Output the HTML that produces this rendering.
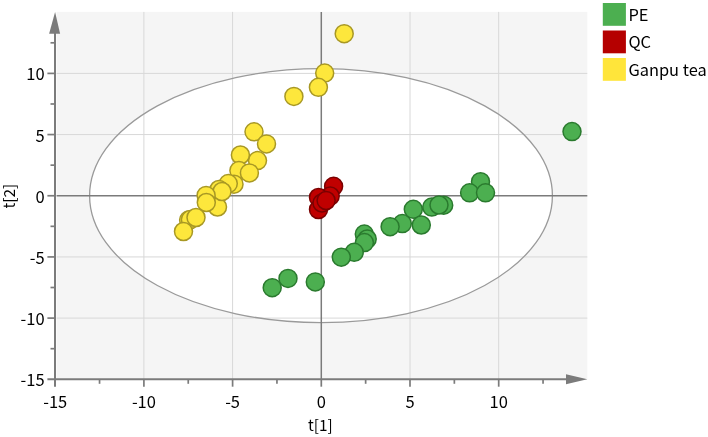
<!DOCTYPE html>
<html><head><meta charset="utf-8"><title>Score plot</title>
<style>html,body{margin:0;padding:0;background:#fff;}svg{display:block;}</style>
</head><body>
<svg width="708" height="437" viewBox="0 0 708 437">
<rect x="56.6" y="11.9" width="530.7" height="367.4" fill="#f5f5f5"/>
<ellipse cx="321.0" cy="195.7" rx="231.4" ry="127" fill="#ffffff"/>
<line x1="143.90" y1="11.9" x2="143.90" y2="379.3" stroke="#d8d8d8" stroke-width="1"/>
<line x1="232.60" y1="11.9" x2="232.60" y2="379.3" stroke="#d8d8d8" stroke-width="1"/>
<line x1="410.00" y1="11.9" x2="410.00" y2="379.3" stroke="#d8d8d8" stroke-width="1"/>
<line x1="498.70" y1="11.9" x2="498.70" y2="379.3" stroke="#d8d8d8" stroke-width="1"/>
<line x1="56.6" y1="73.40" x2="587.3" y2="73.40" stroke="#d8d8d8" stroke-width="1"/>
<line x1="56.6" y1="134.57" x2="587.3" y2="134.57" stroke="#d8d8d8" stroke-width="1"/>
<line x1="56.6" y1="256.93" x2="587.3" y2="256.93" stroke="#d8d8d8" stroke-width="1"/>
<line x1="56.6" y1="318.10" x2="587.3" y2="318.10" stroke="#d8d8d8" stroke-width="1"/>
<ellipse cx="321.0" cy="195.7" rx="231.4" ry="127" fill="none" stroke="#9a9a9a" stroke-width="1.3"/>
<line x1="321.3" y1="11.9" x2="321.3" y2="379.3" stroke="#7b7b7b" stroke-width="1.5"/>
<line x1="56.6" y1="195.75" x2="587.3" y2="195.75" stroke="#7b7b7b" stroke-width="1.5"/>
<line x1="55" y1="30" x2="55" y2="386.7" stroke="#7b7b7b" stroke-width="2"/>
<line x1="47.4" y1="379.3" x2="570" y2="379.3" stroke="#7b7b7b" stroke-width="2"/>
<polygon points="55.1,11.9 49.1,33.7 60.1,33.7" fill="#7b7b7b"/>
<polygon points="587.3,379.3 566,374.2 566,384.2" fill="#7b7b7b"/>
<line x1="50.50" y1="348.69" x2="55" y2="348.69" stroke="#7b7b7b" stroke-width="1.7"/>
<line x1="47.40" y1="318.10" x2="55" y2="318.10" stroke="#7b7b7b" stroke-width="1.7"/>
<line x1="50.50" y1="287.51" x2="55" y2="287.51" stroke="#7b7b7b" stroke-width="1.7"/>
<line x1="47.40" y1="256.93" x2="55" y2="256.93" stroke="#7b7b7b" stroke-width="1.7"/>
<line x1="50.50" y1="226.34" x2="55" y2="226.34" stroke="#7b7b7b" stroke-width="1.7"/>
<line x1="47.40" y1="195.75" x2="55" y2="195.75" stroke="#7b7b7b" stroke-width="1.7"/>
<line x1="50.50" y1="165.16" x2="55" y2="165.16" stroke="#7b7b7b" stroke-width="1.7"/>
<line x1="47.40" y1="134.57" x2="55" y2="134.57" stroke="#7b7b7b" stroke-width="1.7"/>
<line x1="50.50" y1="103.99" x2="55" y2="103.99" stroke="#7b7b7b" stroke-width="1.7"/>
<line x1="47.40" y1="73.40" x2="55" y2="73.40" stroke="#7b7b7b" stroke-width="1.7"/>
<line x1="50.50" y1="42.81" x2="55" y2="42.81" stroke="#7b7b7b" stroke-width="1.7"/>
<line x1="99.55" y1="379.3" x2="99.55" y2="383.80" stroke="#7b7b7b" stroke-width="1.7"/>
<line x1="143.90" y1="379.3" x2="143.90" y2="386.70" stroke="#7b7b7b" stroke-width="1.7"/>
<line x1="188.25" y1="379.3" x2="188.25" y2="383.80" stroke="#7b7b7b" stroke-width="1.7"/>
<line x1="232.60" y1="379.3" x2="232.60" y2="386.70" stroke="#7b7b7b" stroke-width="1.7"/>
<line x1="276.95" y1="379.3" x2="276.95" y2="383.80" stroke="#7b7b7b" stroke-width="1.7"/>
<line x1="321.30" y1="379.3" x2="321.30" y2="386.70" stroke="#7b7b7b" stroke-width="1.7"/>
<line x1="365.65" y1="379.3" x2="365.65" y2="383.80" stroke="#7b7b7b" stroke-width="1.7"/>
<line x1="410.00" y1="379.3" x2="410.00" y2="386.70" stroke="#7b7b7b" stroke-width="1.7"/>
<line x1="454.35" y1="379.3" x2="454.35" y2="383.80" stroke="#7b7b7b" stroke-width="1.7"/>
<line x1="498.70" y1="379.3" x2="498.70" y2="386.70" stroke="#7b7b7b" stroke-width="1.7"/>
<line x1="543.05" y1="379.3" x2="543.05" y2="383.80" stroke="#7b7b7b" stroke-width="1.7"/>
<circle cx="288.0" cy="278.4" r="9.0" fill="#4caf50" stroke="#2a7a2e" stroke-width="1.5"/>
<circle cx="272.2" cy="287.7" r="9.0" fill="#4caf50" stroke="#2a7a2e" stroke-width="1.5"/>
<circle cx="315.3" cy="281.9" r="9.0" fill="#4caf50" stroke="#2a7a2e" stroke-width="1.5"/>
<circle cx="364.3" cy="234.1" r="9.0" fill="#4caf50" stroke="#2a7a2e" stroke-width="1.5"/>
<circle cx="367.2" cy="239" r="9.0" fill="#4caf50" stroke="#2a7a2e" stroke-width="1.5"/>
<circle cx="364.4" cy="242.6" r="9.0" fill="#4caf50" stroke="#2a7a2e" stroke-width="1.5"/>
<circle cx="354.2" cy="252.3" r="9.0" fill="#4caf50" stroke="#2a7a2e" stroke-width="1.5"/>
<circle cx="341.3" cy="257.2" r="9.0" fill="#4caf50" stroke="#2a7a2e" stroke-width="1.5"/>
<circle cx="402.3" cy="223.6" r="9.0" fill="#4caf50" stroke="#2a7a2e" stroke-width="1.5"/>
<circle cx="390.1" cy="226.7" r="9.0" fill="#4caf50" stroke="#2a7a2e" stroke-width="1.5"/>
<circle cx="413.3" cy="209.3" r="9.0" fill="#4caf50" stroke="#2a7a2e" stroke-width="1.5"/>
<circle cx="421.3" cy="225" r="9.0" fill="#4caf50" stroke="#2a7a2e" stroke-width="1.5"/>
<circle cx="431.8" cy="207.1" r="9.0" fill="#4caf50" stroke="#2a7a2e" stroke-width="1.5"/>
<circle cx="443.7" cy="205.2" r="9.0" fill="#4caf50" stroke="#2a7a2e" stroke-width="1.5"/>
<circle cx="439" cy="205" r="9.0" fill="#4caf50" stroke="#2a7a2e" stroke-width="1.5"/>
<circle cx="480.5" cy="181.7" r="9.0" fill="#4caf50" stroke="#2a7a2e" stroke-width="1.5"/>
<circle cx="469.6" cy="192.8" r="9.0" fill="#4caf50" stroke="#2a7a2e" stroke-width="1.5"/>
<circle cx="485.5" cy="192.8" r="9.0" fill="#4caf50" stroke="#2a7a2e" stroke-width="1.5"/>
<circle cx="572" cy="131.6" r="9.0" fill="#4caf50" stroke="#2a7a2e" stroke-width="1.5"/>
<circle cx="333.6" cy="186.3" r="9.0" fill="#c00000" stroke="#7a0000" stroke-width="1.5"/>
<circle cx="330.2" cy="196" r="9.0" fill="#c00000" stroke="#7a0000" stroke-width="1.5"/>
<circle cx="318.5" cy="197.5" r="9.0" fill="#c00000" stroke="#7a0000" stroke-width="1.5"/>
<circle cx="318.5" cy="209.5" r="9.0" fill="#c00000" stroke="#7a0000" stroke-width="1.5"/>
<circle cx="322" cy="203" r="9.0" fill="#c00000" stroke="#7a0000" stroke-width="1.5"/>
<circle cx="326.1" cy="200.5" r="9.0" fill="#c00000" stroke="#7a0000" stroke-width="1.5"/>
<circle cx="344.2" cy="33.7" r="9.0" fill="#fde73c" stroke="#a89824" stroke-width="1.5"/>
<circle cx="324.7" cy="73.1" r="9.0" fill="#fde73c" stroke="#a89824" stroke-width="1.5"/>
<circle cx="318.4" cy="87.3" r="9.0" fill="#fde73c" stroke="#a89824" stroke-width="1.5"/>
<circle cx="293.9" cy="96.4" r="9.0" fill="#fde73c" stroke="#a89824" stroke-width="1.5"/>
<circle cx="254" cy="131.8" r="9.0" fill="#fde73c" stroke="#a89824" stroke-width="1.5"/>
<circle cx="266.5" cy="143.9" r="9.0" fill="#fde73c" stroke="#a89824" stroke-width="1.5"/>
<circle cx="257.5" cy="160.6" r="9.0" fill="#fde73c" stroke="#a89824" stroke-width="1.5"/>
<circle cx="240.4" cy="155" r="9.0" fill="#fde73c" stroke="#a89824" stroke-width="1.5"/>
<circle cx="238.9" cy="170.6" r="9.0" fill="#fde73c" stroke="#a89824" stroke-width="1.5"/>
<circle cx="249.4" cy="172.9" r="9.0" fill="#fde73c" stroke="#a89824" stroke-width="1.5"/>
<circle cx="234" cy="184.2" r="9.0" fill="#fde73c" stroke="#a89824" stroke-width="1.5"/>
<circle cx="228.3" cy="183.6" r="9.0" fill="#fde73c" stroke="#a89824" stroke-width="1.5"/>
<circle cx="217.5" cy="207" r="9.0" fill="#fde73c" stroke="#a89824" stroke-width="1.5"/>
<circle cx="219" cy="189.5" r="9.0" fill="#fde73c" stroke="#a89824" stroke-width="1.5"/>
<circle cx="222" cy="191.5" r="9.0" fill="#fde73c" stroke="#a89824" stroke-width="1.5"/>
<circle cx="206.1" cy="195.4" r="9.0" fill="#fde73c" stroke="#a89824" stroke-width="1.5"/>
<circle cx="206.3" cy="202.5" r="9.0" fill="#fde73c" stroke="#a89824" stroke-width="1.5"/>
<circle cx="188.6" cy="220.1" r="9.0" fill="#fde73c" stroke="#a89824" stroke-width="1.5"/>
<circle cx="190.4" cy="219.6" r="9.0" fill="#fde73c" stroke="#a89824" stroke-width="1.5"/>
<circle cx="196" cy="217.5" r="9.0" fill="#fde73c" stroke="#a89824" stroke-width="1.5"/>
<circle cx="183.5" cy="231.5" r="9.0" fill="#fde73c" stroke="#a89824" stroke-width="1.5"/>
<text x="44.6" y="80.45" text-anchor="end" font-size="16.5" fill="#000000" font-family="'Noto Sans CJK JP', 'Liberation Sans', sans-serif">10</text>
<text x="44.6" y="141.62" text-anchor="end" font-size="16.5" fill="#000000" font-family="'Noto Sans CJK JP', 'Liberation Sans', sans-serif">5</text>
<text x="44.6" y="202.80" text-anchor="end" font-size="16.5" fill="#000000" font-family="'Noto Sans CJK JP', 'Liberation Sans', sans-serif">0</text>
<text x="44.6" y="263.98" text-anchor="end" font-size="16.5" fill="#000000" font-family="'Noto Sans CJK JP', 'Liberation Sans', sans-serif">-5</text>
<text x="44.6" y="325.15" text-anchor="end" font-size="16.5" fill="#000000" font-family="'Noto Sans CJK JP', 'Liberation Sans', sans-serif">-10</text>
<text x="44.6" y="386.32" text-anchor="end" font-size="16.5" fill="#000000" font-family="'Noto Sans CJK JP', 'Liberation Sans', sans-serif">-15</text>
<text x="55.20" y="408.1" text-anchor="middle" font-size="16.5" fill="#000000" font-family="'Noto Sans CJK JP', 'Liberation Sans', sans-serif">-15</text>
<text x="143.90" y="408.1" text-anchor="middle" font-size="16.5" fill="#000000" font-family="'Noto Sans CJK JP', 'Liberation Sans', sans-serif">-10</text>
<text x="232.60" y="408.1" text-anchor="middle" font-size="16.5" fill="#000000" font-family="'Noto Sans CJK JP', 'Liberation Sans', sans-serif">-5</text>
<text x="321.30" y="408.1" text-anchor="middle" font-size="16.5" fill="#000000" font-family="'Noto Sans CJK JP', 'Liberation Sans', sans-serif">0</text>
<text x="410.00" y="408.1" text-anchor="middle" font-size="16.5" fill="#000000" font-family="'Noto Sans CJK JP', 'Liberation Sans', sans-serif">5</text>
<text x="498.70" y="408.1" text-anchor="middle" font-size="16.5" fill="#000000" font-family="'Noto Sans CJK JP', 'Liberation Sans', sans-serif">10</text>
<text x="320.4" y="430.7" text-anchor="middle" font-size="15.35" fill="#000000" font-family="'Noto Sans CJK JP', 'Liberation Sans', sans-serif">t[1]</text>
<text transform="translate(14.8,196.25) rotate(-90)" x="0" y="0" text-anchor="middle" font-size="15.35" fill="#000000" font-family="'Noto Sans CJK JP', 'Liberation Sans', sans-serif">t[2]</text>
<rect x="602.8" y="3.00" width="23.1" height="22.8" fill="#4caf50"/>
<text x="628.4" y="21.00" font-size="16.4" fill="#000000" font-family="'Noto Sans CJK JP', 'Liberation Sans', sans-serif">PE</text>
<rect x="602.8" y="30.50" width="23.1" height="22.8" fill="#b50000"/>
<text x="628.4" y="48.30" font-size="16.4" fill="#000000" font-family="'Noto Sans CJK JP', 'Liberation Sans', sans-serif">QC</text>
<rect x="602.8" y="58.00" width="23.1" height="22.8" fill="#ffe53a"/>
<text x="628.4" y="75.60" font-size="16.4" fill="#000000" font-family="'Noto Sans CJK JP', 'Liberation Sans', sans-serif">Ganpu tea</text>
</svg>
</body></html>
